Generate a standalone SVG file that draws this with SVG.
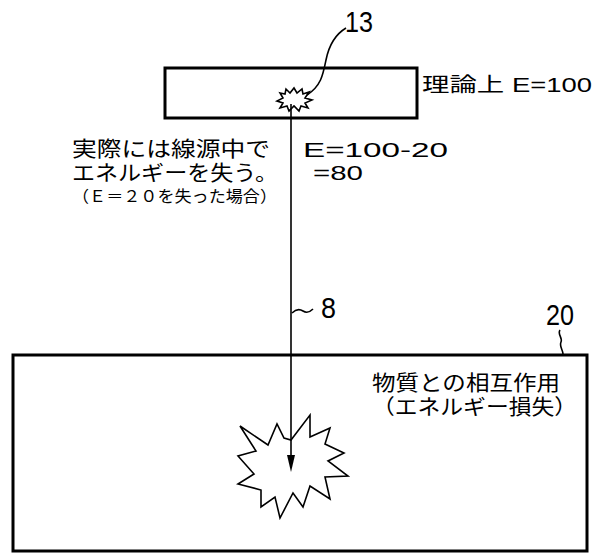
<svg xmlns="http://www.w3.org/2000/svg" width="596" height="553" viewBox="0 0 596 553">
<style>
.box{fill:none;stroke:#000;stroke-width:3}
.ln{fill:none;stroke:#000;stroke-width:1.6}
.burst{fill:#fff;stroke:#000;stroke-width:1.6;stroke-linejoin:miter}
.jp{font-family:"Liberation Sans","Noto Sans CJK JP",sans-serif;font-size:21px;fill:#000}
.sm{font-family:"Liberation Sans","Noto Sans CJK JP",sans-serif;font-size:16px;fill:#000}
.num{font-family:"Liberation Sans","Noto Sans CJK JP",sans-serif;font-size:20px;fill:#000}
.ref{font-family:"Liberation Sans",sans-serif;font-size:30px;fill:#000}
</style>
<rect width="596" height="553" fill="#fff"/>
<g id="source">
<rect class="box" x="165" y="68" width="252" height="50"/>
<polygon class="burst" points="280,93 285,94 286,89 290,93 294,88 297,93 302,89 303,94 309,92 305,98 312,100 305,103 308,108 301,106 299,111 294,106 289,111 287,106 280,108 283,103 277,101 283,98"/>
</g>
<g id="label13">
<text class="ref" x="345" y="32" textLength="28" lengthAdjust="spacingAndGlyphs">13</text>
<path class="ln" d="M346,28 C336,34 329,45 326,60 C323,75 321,86 307,95"/>
</g>
<g id="theory">
<text class="num" x="422" y="92" textLength="170" lengthAdjust="spacingAndGlyphs">理論上 E=100</text>
</g>
<g id="note-left">
<text class="jp" x="72" y="156" textLength="198" lengthAdjust="spacingAndGlyphs">実際には線源中で</text>
<text class="jp" x="72" y="180" textLength="206" lengthAdjust="spacingAndGlyphs">エネルギーを失う。</text>
<text class="sm" x="72" y="202" textLength="205" lengthAdjust="spacingAndGlyphs">（Ｅ＝２０を失った場合）</text>
</g>
<g id="note-right">
<text class="num" x="303" y="157" textLength="145" lengthAdjust="spacingAndGlyphs">E=100-20</text>
<text class="num" x="313" y="180" textLength="50" lengthAdjust="spacingAndGlyphs">=80</text>
</g>
<g id="matter">
<rect class="box" x="13" y="355" width="574" height="196"/>
<text class="jp" x="372" y="390" textLength="188" lengthAdjust="spacingAndGlyphs">物質との相互作用</text>
<text class="jp" x="372" y="414" textLength="205" lengthAdjust="spacingAndGlyphs">（エネルギー損失）</text>
<polygon class="burst" points="240,426 268,445 277,424 284,438 291,440 310,415 310,437 330,428 325,444 344,453 328,461 348,476 325,477 330,499 310,486 303,507 293,493 280,518 275,497 261,507 261,490 238,484 254,474 238,456 256,451"/>
</g>
<g id="label20">
<text class="ref" x="546" y="325" textLength="28" lengthAdjust="spacingAndGlyphs">20</text>
<path class="ln" d="M560,330 c-3,4 3,8 1,12 c-2,4 2,8 2,12"/>
</g>
<g id="connectors">
<line class="ln" x1="291" y1="104" x2="291" y2="458"/>
<polygon points="291,472 287,455 295,455" fill="#000"/>
<path class="ln" d="M292,313 c4,-4 8,-4 11,-2 c3,2 6,2 10,-2"/>
<text class="ref" x="321" y="318" textLength="15" lengthAdjust="spacingAndGlyphs">8</text>
</g>
</svg>
